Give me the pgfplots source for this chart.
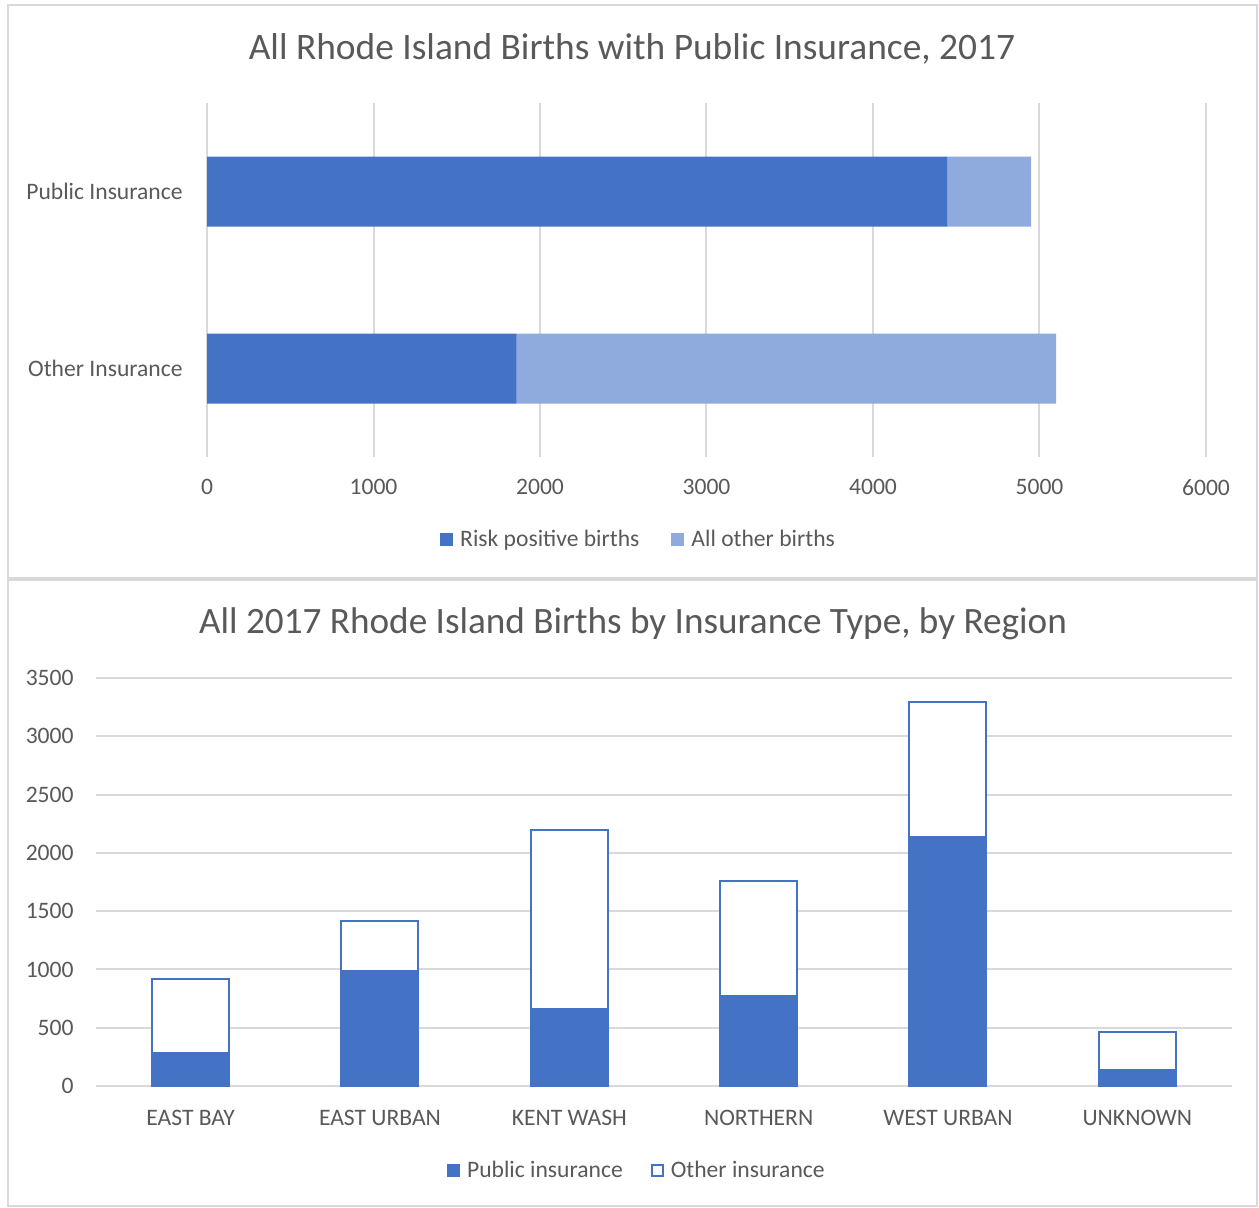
\documentclass[border=0pt]{standalone}
\usepackage{pgfplots}
\pgfplotsset{compat=1.18}
\usepackage{fontspec}
\setmainfont{Carlito}
\definecolor{dblue}{HTML}{4472C4}
\definecolor{lblue}{HTML}{8FAADC}
\definecolor{txt}{HTML}{595959}
\definecolor{grd}{HTML}{D9D9D9}
\begin{document}
\begin{tikzpicture}
\useasboundingbox (0,0) rectangle (629.5pt,-603.5pt);
\draw[grd, line width=1pt] (4pt,-2.5pt) rectangle (628.5pt,-289pt);
\draw[grd, line width=1pt] (4pt,-290pt) rectangle (628.5pt,-603pt);
\node[txt, font=\fontsize{18.7}{22}\selectfont] at (316pt,-24.5pt) {All Rhode Island Births with Public Insurance, 2017};
\node[txt, font=\fontsize{18.6}{22}\selectfont] at (316.5pt,-312pt) {All 2017 Rhode Island Births by Insurance Type, by Region};
\begin{axis}[
  at={(103.5pt,-228.5pt)}, anchor=south west,
  scale only axis, width=499.5pt, height=177pt,
  xbar stacked, bar width=35pt,
  xmin=0, xmax=6000, xtick={0,1000,...,6000},
  ymin=-0.5, ymax=1.5, ytick={0,1}, yticklabels={Other Insurance,Public Insurance},
  axis line style={draw=none}, major tick length=0pt,
  xmajorgrids, grid style={grd, line width=1pt},
  /pgf/number format/assume math mode=true,
  /pgf/number format/1000 sep={},
  ticklabel style={font=\fontsize{11.8}{14}\selectfont, text=txt},
  xticklabel style={inner sep=0pt, anchor=north, yshift=-11pt},
  yticklabel style={inner sep=0pt, anchor=east, xshift=-12pt},
  legend style={at={(0.433,-0.234)}, anchor=center, draw=none, fill=none,
    font=\fontsize{11.8}{14}\selectfont, text=txt, legend columns=2,
    /tikz/every even column/.append style={column sep=14pt}},
  legend image code/.code={\fill[#1] (0pt,-3.2pt) rectangle (6.4pt,3.2pt); \path (8pt,0pt);},
]
\addplot[fill=dblue, draw=none] coordinates {(4445,1) (1860,0)};
\addlegendentry{Risk positive births}
\addplot[fill=lblue, draw=none] coordinates {(505,1) (3240,0)};
\addlegendentry{All other births}
\end{axis}
\begin{axis}[
  at={(48pt,-543pt)}, anchor=south west,
  scale only axis, width=568pt, height=204pt,
  ybar stacked, bar width=38.5pt,
  ymin=0, ymax=3500, ytick={0,500,...,3500},
  xmin=-0.5, xmax=5.5, xtick={0,...,5},
  xticklabels={EAST BAY,EAST URBAN,KENT WASH,NORTHERN,WEST URBAN,UNKNOWN},
  axis line style={draw=none}, major tick length=0pt,
  ymajorgrids, grid style={grd, line width=1pt},
  /pgf/number format/assume math mode=true,
  /pgf/number format/1000 sep={},
  ticklabel style={font=\fontsize{11.8}{14}\selectfont, text=txt},
  xticklabel style={inner sep=0pt, anchor=north, yshift=-12pt},
  yticklabel style={inner sep=0pt, anchor=east, xshift=-11pt},
  legend style={at={(0.477,-0.208)}, anchor=center, draw=none, fill=none,
    font=\fontsize{11.8}{14}\selectfont, text=txt, legend columns=2,
    /tikz/every even column/.append style={column sep=12pt}},
  legend image code/.code={\draw[#1, line width=1pt] (0.5pt,-2.7pt) rectangle (5.9pt,2.7pt); \path (7.5pt,0pt);},
]
\addplot[fill=dblue, draw=dblue, line width=1pt] coordinates {(0,285) (1,986) (2,660) (3,772) (4,2136) (5,137)};
\addlegendentry{Public insurance}
\addplot[fill=white, draw=dblue, line width=1pt] coordinates {(0,635) (1,429) (2,1536) (3,987) (4,1158) (5,326)};
\addlegendentry{Other insurance}
\end{axis}
\end{tikzpicture}
\end{document}
